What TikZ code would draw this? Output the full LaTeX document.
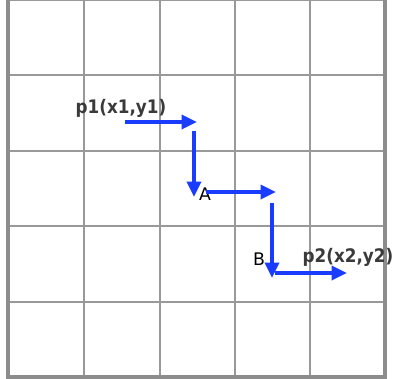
\documentclass[tikz,border=0pt]{standalone}
\usepackage{fontspec}
\setmainfont{DejaVu Sans}
\newfontfamily\condfont{DejaVu Sans Condensed}
\usetikzlibrary{positioning, arrows.meta}

\definecolor{gridgray}{HTML}{999999}
\definecolor{bordergray}{HTML}{8C8C8C}
\definecolor{pathblue}{HTML}{1A3CFF}
\definecolor{labelgray}{HTML}{3A3A3A}

\begin{document}
\begin{tikzpicture}[
    x=0.75pt, y=-0.75pt,
    gridline/.style = {draw=gridgray, line width=1.4pt},
    border/.style = {draw=bordergray, line width=2.4pt},
    arrow/.style = {-{Triangle[length=11.5pt, width=10.5pt]}, draw=pathblue, line width=2.6pt},
    pointlabel/.style = {font=\condfont\bfseries\fontsize{14}{16}\selectfont, text=labelgray, inner sep=0pt},
    cornerlabel/.style = {font=\fontsize{13}{15}\selectfont, text=black, inner sep=0pt}
]
\useasboundingbox (0,0) rectangle (394,379);

% Grid
\foreach \x in {84,160,235,310}
    \draw[gridline] (\x,0) -- (\x,377);
\foreach \y in {0,75,151,226,302}
    \draw[gridline] (8,\y) -- (385,\y);
\draw[border] (8,0) -- (8,377) -- (385,377) -- (385,0);

% Labels
\node[pointlabel] (p1) at (121,108) {p1(x1,y1)};
\node[pointlabel] (p2) at (348,257) {p2(x2,y2)};
\node[cornerlabel] (A) at (205,194) {A};
\node[cornerlabel] (B) at (259,259) {B};

% Path points
\coordinate (s1) at (125,122);
\coordinate (e1) at (197,122);
\coordinate (s2) at (194,131);
\coordinate (e2) at (194,197);
\coordinate (s3) at (206,192);
\coordinate (e3) at (276,192);
\coordinate (s4) at (272,203);
\coordinate (e4) at (272,278);
\coordinate (s5) at (275,273);
\coordinate (e5) at (347,273);

% Arrows
\draw[arrow] (s1) -- (e1);
\draw[arrow] (s2) -- (e2);
\draw[arrow] (s3) -- (e3);
\draw[arrow] (s4) -- (e4);
\draw[arrow] (s5) -- (e5);

\end{tikzpicture}
\end{document}
